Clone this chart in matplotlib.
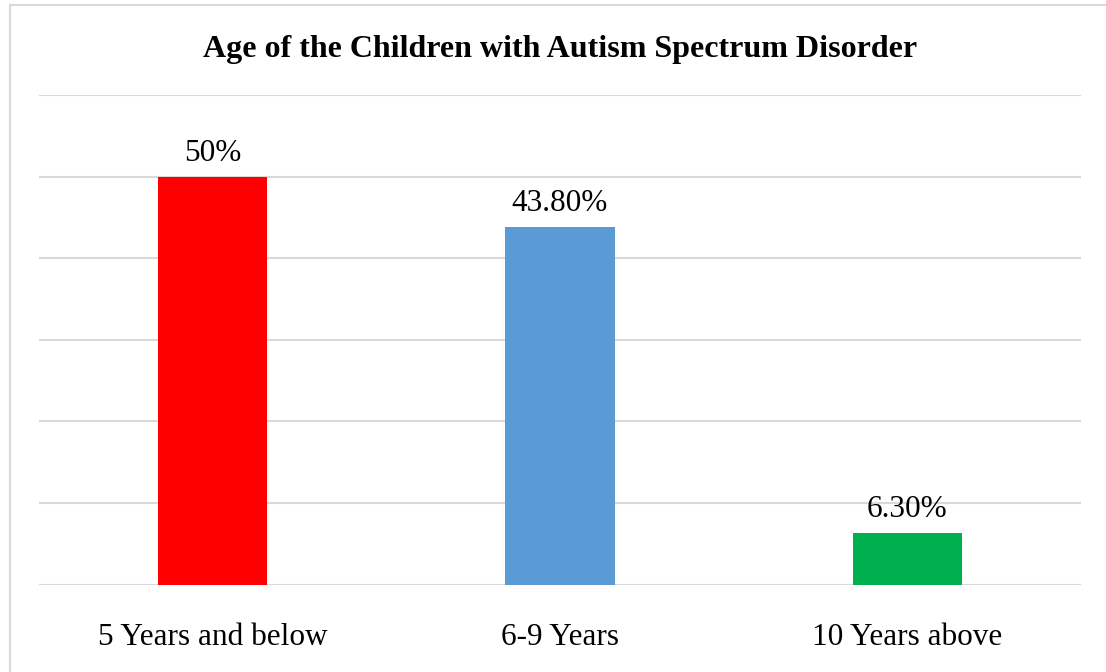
import matplotlib
matplotlib.use("Agg")
import matplotlib.pyplot as plt
from matplotlib.lines import Line2D

categories = ["5 Years and below", "6-9 Years", "10 Years above"]
values = [50.0, 43.8, 6.3]
labels = ["50%", "43.80%", "6.30%"]
colors = ["#FF0000", "#5B9BD5", "#00B050"]
title = "Age of the Children with Autism Spectrum Disorder"

plt.rcParams["font.family"] = ["Liberation Serif", "DejaVu Serif"]

W, H = 1106, 672
fig = plt.figure(figsize=(W / 100, H / 100), dpi=100)
ax = fig.add_axes([39 / W, 87.5 / H, (1081 - 39) / W, (584.5 - 95) / H])

x = range(len(categories))
ax.bar(x, values, width=0.314, color=colors, zorder=3)
ax.set_xlim(-0.5, 2.5)
ax.set_ylim(0, 60)
ax.set_yticks(range(0, 61, 10))
ax.yaxis.grid(True, color="#D9D9D9", linewidth=1.5, zorder=0)
ax.tick_params(axis="y", left=False, labelleft=False)
ax.tick_params(axis="x", bottom=False, pad=24)
ax.set_xticks(list(x))
ax.set_xticklabels(categories, fontsize=22.5)
for s in ax.spines.values():
    s.set_visible(False)

for xi, v, lab in zip(x, values, labels):
    ax.annotate(lab, (xi, v), xytext=(0, 6.5), textcoords="offset points",
                ha="center", va="bottom", fontsize=22.5)

fig.text(560 / W, 1 - 50 / H, title, ha="center", va="center",
         fontsize=23, fontweight="bold")

# outer chart frame (top and left edges visible)
fig.add_artist(Line2D([9.5 / W, 9.5 / W], [0, 1 - 5 / H], color="#D9D9D9",
                      linewidth=1.5, transform=fig.transFigure))
fig.add_artist(Line2D([9.5 / W, 1], [1 - 5 / H, 1 - 5 / H], color="#D9D9D9",
                      linewidth=1.5, transform=fig.transFigure))

fig.savefig("out.png", dpi=100)
